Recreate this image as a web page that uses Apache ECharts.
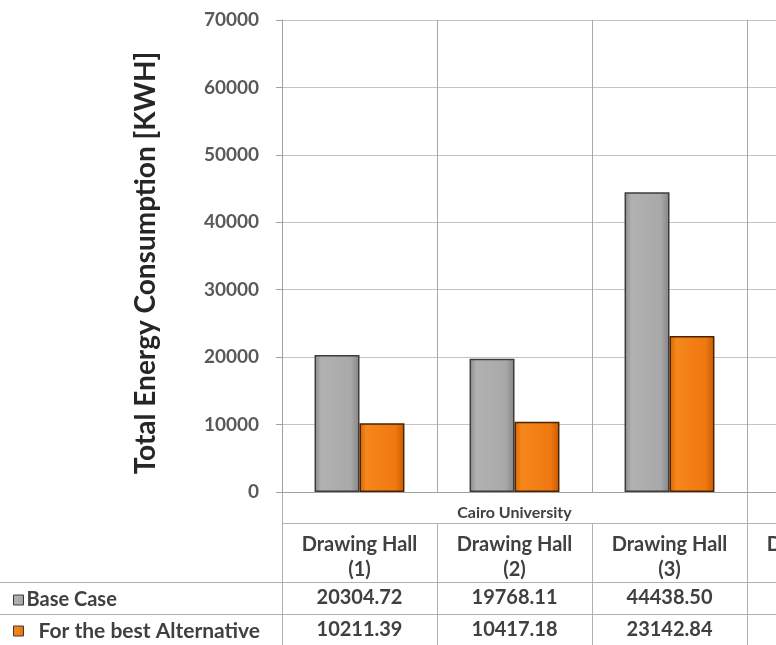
<!DOCTYPE html>
<html>
<head>
<meta charset="utf-8">
<script src="https://cdn.jsdelivr.net/npm/echarts@6/dist/echarts.min.js"></script>
<style>
  html, body { margin: 0; padding: 0; background: #ffffff; }
  #chart { width: 776px; height: 645px; }
</style>
</head>
<body>
<div id="chart"></div>
<script>
// Halls (category axis) and the university group they belong to
const categories = ['Drawing Hall\n(1)', 'Drawing Hall\n(2)', 'Drawing Hall\n(3)', 'Drawing Hall\n(4)'];
const groupLabels = ['', 'Cairo University', '', ''];
const seriesNames = ['Base Case', 'For the best Alternative'];

// Total energy consumption per hall [KWH]
const baseCase = [20304.72, 19768.11, 44438.50, null];
const bestAlternative = [10211.39, 10417.18, 23142.84, null];

// Value axis ticks
const yMin = 0;
const yMax = 70000;
const yStep = 10000;

const FONT = 'Lato, "Open Sans", sans-serif';
const TEXT = '#404040';

const chart = echarts.init(document.getElementById('chart'), null, { renderer: 'canvas' });

function fmt(v) {
  return v == null ? '' : v.toFixed(2);
}

// The plot runs past the right edge of the page: four halls, the fourth cut off
const gridLeft = 282, gridTop = 20, gridHeight = 472, gridWidth = 620;

const tableAxis = (labelFn, margin, size) => ({
  type: 'category',
  gridIndex: 0,
  position: 'bottom',
  data: categories,
  boundaryGap: true,
  axisLine: { show: false },
  axisTick: { show: false },
  splitLine: { show: false },
  axisLabel: {
    interval: 0,
    margin: margin,
    hideOverlap: false,
    formatter: (val, idx) => labelFn(idx),
    color: TEXT,
    fontFamily: FONT,
    fontWeight: 'bold',
    fontSize: size,
    lineHeight: size + 4
  }
});

const legendBase = {
  orient: 'horizontal',
  icon: 'rect',
  itemWidth: 10,
  itemHeight: 10,
  itemGap: 0,
  selectedMode: false,
  itemStyle: { borderColor: '#3c3c3c', borderWidth: 1 }
};

chart.setOption({
  animation: false,
  backgroundColor: '#ffffff',
  grid: {
    left: gridLeft, top: gridTop, width: gridWidth, height: gridHeight,
    outerBoundsMode: 'none', containLabel: false
  },
  legend: [
    Object.assign({}, legendBase, {
      data: [seriesNames[0]], left: 8, top: 584,
      textStyle: { color: TEXT, fontFamily: FONT, fontWeight: 'bold', fontSize: 20, lineHeight: 22, padding: [0, 0, 0, -2] }
    }),
    Object.assign({}, legendBase, {
      data: [seriesNames[1]], left: 8, top: 615,
      textStyle: { color: TEXT, fontFamily: FONT, fontWeight: 'bold', fontSize: 21, lineHeight: 22, padding: [0, 0, 0, 10] }
    })
  ],
  xAxis: [
    {
      type: 'category',
      data: categories,
      boundaryGap: true,
      axisLine: { show: true, lineStyle: { color: '#a0a0a0', width: 1 } },
      axisTick: { show: false },
      splitLine: { show: true, interval: 0, lineStyle: { color: '#a8a8a8', width: 1 } },
      axisLabel: {
        interval: 0,
        margin: 40,
        hideOverlap: false,
        color: TEXT,
        fontFamily: FONT,
        fontWeight: 'bold',
        fontSize: 20,
        lineHeight: 25
      }
    },
    tableAxis(i => groupLabels[i], 11, 16),
    tableAxis(i => fmt(baseCase[i]), 94, 20),
    tableAxis(i => fmt(bestAlternative[i]), 126, 20)
  ],
  yAxis: {
    type: 'value',
    min: yMin,
    max: yMax,
    interval: yStep,
    axisLine: { show: true, lineStyle: { color: '#a0a0a0' } },
    axisTick: { show: true, length: 6, lineStyle: { color: '#a0a0a0' } },
    splitLine: { show: true, lineStyle: { color: '#c4c4c4', width: 1 } },
    axisLabel: {
      margin: 23,
      color: '#595959',
      fontFamily: FONT,
      fontWeight: 'bold',
      fontSize: 19,
      formatter: v => String(v)
    }
  },
  series: [
    {
      name: seriesNames[0],
      type: 'bar',
      data: baseCase,
      barGap: '0%',
      barCategoryGap: '42%',
      itemStyle: {
        color: new echarts.graphic.LinearGradient(0, 0, 1, 0, [
          { offset: 0, color: '#8a8a8a' },
          { offset: 0.15, color: '#b1b1b1' },
          { offset: 0.8, color: '#a9a9a9' },
          { offset: 1, color: '#858585' }
        ]),
        borderColor: '#3c3c3c',
        borderWidth: 1.5
      }
    },
    {
      name: seriesNames[1],
      type: 'bar',
      data: bestAlternative,
      itemStyle: {
        color: new echarts.graphic.LinearGradient(0, 0, 1, 0, [
          { offset: 0, color: '#d86400' },
          { offset: 0.15, color: '#f5871c' },
          { offset: 0.8, color: '#f07810' },
          { offset: 1, color: '#c85c00' }
        ]),
        borderColor: '#4a2400',
        borderWidth: 1.5
      }
    }
  ]
});

// Data-table rules: verticals at the category boundaries, horizontals between rows
const band = chart.convertToPixel({ xAxisIndex: 0 }, 1) - chart.convertToPixel({ xAxisIndex: 0 }, 0);
const firstEdge = chart.convertToPixel({ xAxisIndex: 0 }, 0) - band / 2;
const zeroY = chart.convertToPixel({ yAxisIndex: 0 }, 0);
const groupRowBottom = zeroY + 31;
const hallRowBottom = zeroY + 90;
const baseRowBottom = zeroY + 122;
const tableBottom = 645;
const ruleStyle = { stroke: '#b0b0b0', lineWidth: 1 };

const graphics = [];
for (let i = 0; i <= categories.length; i++) {
  const x = Math.round(firstEdge + i * band) + 0.5;
  const groupEdge = (i === 0 || i === 3 || i === categories.length);
  graphics.push({
    type: 'line', silent: true,
    shape: { x1: x, y1: groupEdge ? zeroY : groupRowBottom, x2: x, y2: tableBottom },
    style: ruleStyle
  });
}
graphics.push(
  { type: 'line', silent: true, shape: { x1: firstEdge, y1: groupRowBottom + 0.5, x2: 776, y2: groupRowBottom + 0.5 }, style: ruleStyle },
  { type: 'line', silent: true, shape: { x1: 0, y1: hallRowBottom + 0.5, x2: 776, y2: hallRowBottom + 0.5 }, style: ruleStyle },
  { type: 'line', silent: true, shape: { x1: 0, y1: baseRowBottom + 0.5, x2: 776, y2: baseRowBottom + 0.5 }, style: ruleStyle },
  {
    type: 'text', silent: true,
    x: 146, y: 263, rotation: Math.PI / 2,
    style: {
      text: 'Total Energy Consumption [KWH]',
      fill: '#262626',
      font: 'bold 28px ' + FONT,
      textAlign: 'center',
      textVerticalAlign: 'middle'
    }
  }
);
chart.setOption({ graphic: graphics });
</script>
</body>
</html>
